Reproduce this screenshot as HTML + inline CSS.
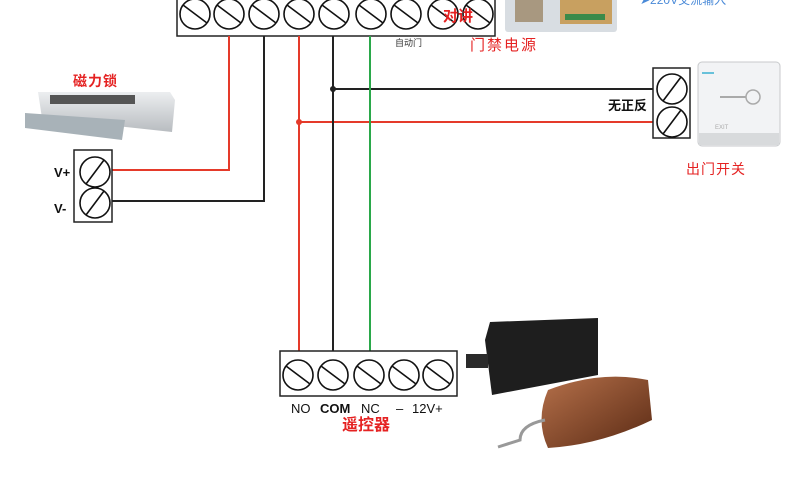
<!DOCTYPE html>
<html><head><meta charset="utf-8"><style>
body{margin:0;background:#fff;width:790px;height:491px;overflow:hidden}
svg{display:block}
text{font-family:"Liberation Sans","Noto Sans CJK SC",sans-serif}
</style></head><body>
<svg width="790" height="491" viewBox="0 0 790 491" xmlns="http://www.w3.org/2000/svg">
<defs>
<linearGradient id="lk" x1="0" y1="0" x2="0" y2="1"><stop offset="0" stop-color="#eceef0"/><stop offset="1" stop-color="#b8bcc0"/></linearGradient>
<linearGradient id="fob" x1="0" y1="0" x2="1" y2="1"><stop offset="0" stop-color="#b5704a"/><stop offset="1" stop-color="#5a2a14"/></linearGradient>
</defs>
<rect x="177" y="-2" width="318" height="38" fill="#fff" stroke="#222" stroke-width="1.5"/>
<g fill="none" stroke="#111" stroke-width="1.6">
<circle cx="195" cy="14" r="15"/><circle cx="229" cy="14" r="15"/><circle cx="264" cy="14" r="15"/><circle cx="299" cy="14" r="15"/><circle cx="334" cy="14" r="15"/><circle cx="371" cy="14" r="15"/><circle cx="406" cy="14" r="15"/><circle cx="443" cy="14" r="15"/><circle cx="478" cy="14" r="15"/>
<path d="M183 5L207 23M217 5L241 23M252 5L276 23M287 5L311 23M322 5L346 23M359 5L383 23M394 5L418 23M431 5L455 23M466 5L490 23"/>
</g>
<text x="443" y="21" font-size="15" font-weight="bold" fill="#e52222">对讲</text>
<text x="395" y="46" font-size="9" fill="#333">自动门</text>
<text x="470" y="50" font-size="15" fill="#e52222" letter-spacing="2">门禁电源</text>
<rect x="505" y="-4" width="112" height="36" rx="3" fill="#d8dde2"/>
<rect x="515" y="0" width="28" height="22" fill="#a89880"/>
<rect x="560" y="-2" width="52" height="26" fill="#c8a060"/>
<rect x="565" y="14" width="40" height="6" fill="#3a8a4a"/>
<text x="640" y="4" font-size="12" fill="#4a8ad8">➤220V交流输入</text>
<g fill="none" stroke-width="2">
<path d="M229 36V170H110" stroke="#e53a2a"/>
<path d="M264 36V201H110" stroke="#222"/>
<path d="M299 36V355" stroke="#e53a2a"/>
<path d="M299 122H660" stroke="#e53a2a"/>
<path d="M333 36V355" stroke="#222"/>
<path d="M333 89H660" stroke="#222"/>
<path d="M370 36V355" stroke="#2aa84a"/>
</g>
<circle cx="333" cy="89" r="3" fill="#222"/>
<circle cx="299" cy="122" r="3" fill="#e53a2a"/>
<text x="73" y="86" font-size="14" font-weight="bold" fill="#e52222" letter-spacing="1">磁力锁</text>
<polygon points="38,92 170,92 175,100 172,132 42,118" fill="url(#lk)"/>
<rect x="50" y="95" width="85" height="9" fill="#555"/>
<polygon points="25,113 125,120 122,140 25,128" fill="#a8b2b8"/>
<rect x="74" y="150" width="38" height="72" fill="#fff" stroke="#222" stroke-width="1.5"/>
<g fill="none" stroke="#111" stroke-width="1.6">
<circle cx="95" cy="172" r="15"/><circle cx="95" cy="203" r="15"/>
<path d="M86 184L104 160M86 215L104 191"/>
</g>
<text x="54" y="177" font-size="13" font-weight="bold" fill="#111">V+</text>
<text x="54" y="213" font-size="13" font-weight="bold" fill="#111">V-</text>
<rect x="653" y="68" width="37" height="70" fill="#fff" stroke="#222" stroke-width="1.5"/>
<g fill="none" stroke="#111" stroke-width="1.6">
<circle cx="672" cy="89" r="15"/><circle cx="672" cy="122" r="15"/>
<path d="M663 101L681 77M663 134L681 110"/>
</g>
<text x="608" y="110" font-size="13" font-weight="bold" fill="#111">无正反</text>
<rect x="698" y="62" width="82" height="84" rx="4" fill="#f2f3f5" stroke="#c8cacc"/>
<rect x="699" y="133" width="80" height="12" fill="#d8dadc"/>
<line x1="702" y1="73" x2="714" y2="73" stroke="#3ab0d0" stroke-width="1.5"/>
<circle cx="753" cy="97" r="7" fill="none" stroke="#aaa" stroke-width="1.5"/>
<line x1="720" y1="97" x2="746" y2="97" stroke="#aaa" stroke-width="2"/>
<text x="715" y="129" font-size="6" fill="#aaa">EXIT</text>
<text x="686" y="174" font-size="14" fill="#e52222" letter-spacing="1">出门开关</text>
<rect x="280" y="351" width="177" height="45" fill="#fff" stroke="#222" stroke-width="1.5"/>
<g fill="none" stroke="#111" stroke-width="1.6">
<circle cx="298" cy="375" r="15"/><circle cx="333" cy="375" r="15"/><circle cx="369" cy="375" r="15"/><circle cx="404" cy="375" r="15"/><circle cx="438" cy="375" r="15"/>
<path d="M286 366L310 384M321 366L345 384M357 366L381 384M392 366L416 384M426 366L450 384"/>
</g>
<text x="291" y="413" font-size="13" fill="#111">NO</text>
<text x="320" y="413" font-size="13" font-weight="bold" fill="#111">COM</text>
<text x="361" y="413" font-size="13" fill="#111">NC</text>
<text x="396" y="413" font-size="13" fill="#111">–</text>
<text x="412" y="413" font-size="13" fill="#111">12V+</text>
<text x="342" y="430" font-size="16" font-weight="bold" fill="#e52222">遥控器</text>
<polygon points="485,340 490,322 598,318 598,375 492,395" fill="#1e1e1e"/>
<rect x="466" y="354" width="22" height="14" fill="#2a2a2a"/>
<path d="M548 390Q600 370 648 380L652 420Q600 445 548 448Q535 420 548 390Z" fill="url(#fob)"/>
<path d="M545 420Q520 425 520 440L498 447" fill="none" stroke="#999" stroke-width="3"/>
</svg>
</body></html>
